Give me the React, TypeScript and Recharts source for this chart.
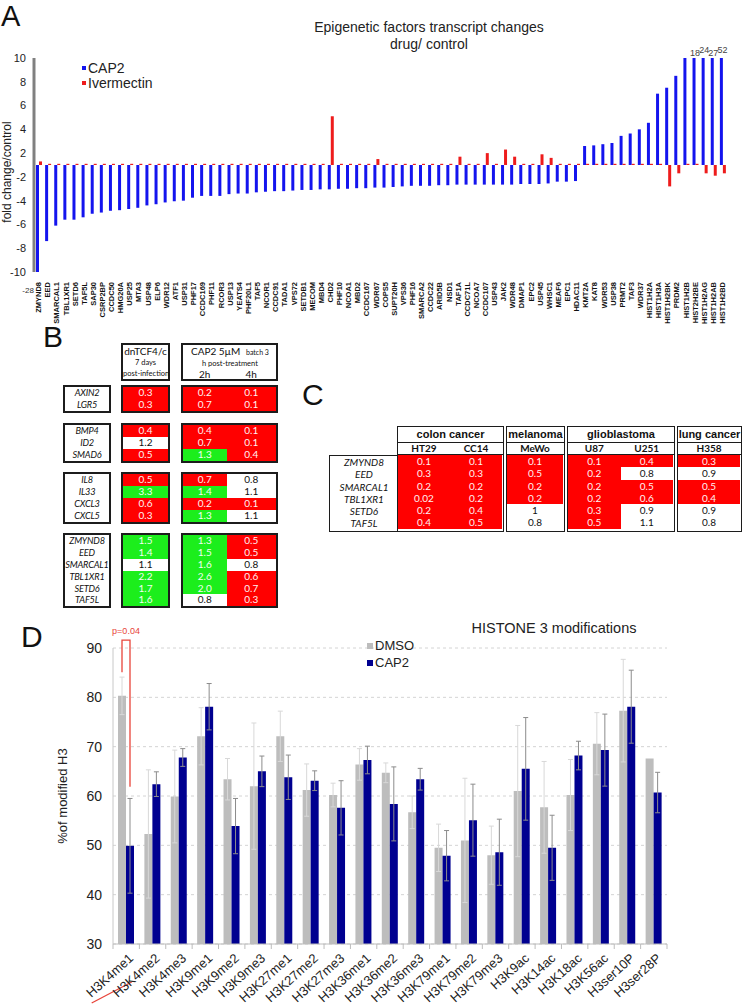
import React from 'react'
import {
  BarChart,
  Bar,
  XAxis,
  YAxis,
  CartesianGrid,
  Legend,
  ErrorBar,
  LabelList,
  ReferenceDot,
  Label,
} from 'recharts'

const AXIS_FONT = '"Liberation Sans", Arial, sans-serif'
const CAL_FONT = 'Lato, "Open Sans", sans-serif'
const RED = '#ff0000'
const GREEN = '#1cee1c'
const CAP2_BLUE = '#1414ee'
const IVER_RED = '#ee1c1c'
const NAVY = '#000090'
const DMSO_GRAY = '#bdbdbd'

// ---------- Panel A: fold change drug/control ----------
const geneNames = [
  'ZMYND8', 'EED', 'SMARCAL1', 'TBL1XR1', 'SETD6', 'TAF5L', 'SAP30', 'CSRP2BP', 'CCDC50', 'HMG20A',
  'USP25', 'MTA3', 'USP48', 'ELP6', 'WDR12', 'ATF1', 'USP31', 'PHF17', 'CCDC169', 'PHF11',
  'RCOR3', 'USP13', 'YEATS4', 'PHF20L1', 'TAF5', 'NCOR1', 'CCDC91', 'TADA1', 'VPS72', 'SETDB1',
  'MECOM', 'MBD4', 'CHD2', 'PHF10', 'NCOA1', 'MBD2', 'CCDC167', 'WDR67', 'COPS5', 'SUPT20H',
  'VPS36', 'PHF16', 'SMARCA2', 'CCDC22', 'ARID5B', 'NSD1', 'TAF1A', 'CCDC71L', 'NCOA7', 'CCDC107',
  'USP43', 'JAK2', 'WDR48', 'DMAP1', 'EPC2', 'USP45', 'WHSC1', 'MEAF6', 'EPC1', 'HDAC11',
  'KMT2A', 'KAT8', 'WDR53', 'USP38', 'PRMT2', 'TAF3', 'WDR37', 'HIST1H2A', 'HIST1H3A', 'HIST1H2BK',
  'PRDM2', 'HIST1H2B', 'HIST2H2BE', 'HIST1H2AG', 'HIST1H2AB', 'HIST1H2BD',
]

const cap2Fold = [
  -28, -7.4, -6.1, -5.6, -5.6, -5.4, -5.1, -5.0, -4.85, -4.8,
  -4.7, -4.6, -4.4, -4.3, -4.15, -4.05, -4.0, -3.75, -3.6, -3.6,
  -3.6, -3.45, -3.4, -3.4, -3.3, -3.25, -3.2, -3.2, -3.15, -3.1,
  -3.1, -3.05, -3.05, -3.0, -3.0, -2.95, -2.95, -2.9, -2.9, -2.85,
  -2.8, -2.75, -2.75, -2.75, -2.7, -2.7, -2.65, -2.65, -2.65, -2.65,
  -2.65, -2.65, -2.65, -2.6, -2.6, -2.6, -2.55, -2.4, -2.4, -2.35,
  2.6, 2.65, 2.75, 2.85, 3.45, 3.65, 4.0, 4.55, 7.0, 7.5,
  8.5, 10, 18, 24, 27, 52,
]

const ivermectinFold = [
  1.3, 1.1, 1.1, 1.1, 1.1, 1.1, 1.1, 1.1, 1.1, 1.1,
  1.1, 1.1, 1.1, 1.1, 1.1, 1.1, 1.1, 1.1, 1.1, 1.1,
  1.1, 1.1, 1.1, 1.1, 1.1, 1.1, 1.1, 1.1, 1.1, 1.1,
  1.1, 1.1, 5.1, 1.1, 1.1, 1.1, 1.1, 1.5, 1.1, 1.1,
  1.1, 1.1, 1.1, 1.1, 1.1, 1.1, 1.7, 1.1, 1.1, 2.0,
  1.1, 2.3, 1.7, 1.1, 1.1, 1.9, 1.6, 1.1, 1.1, 1.1,
  1.1, 1.1, 1.1, 1.1, 1.1, 1.1, 1.1, 1.1, 1.1, -2.8,
  -1.7, 1.1, 1.1, -1.7, -1.9, -1.7,
]

const foldTicks = [10, 8, 6, 4, 2, -2, -4, -6, -8, -10]

// the axis skips the -1..1 gap: fold 1 / -1 sits on the baseline
const foldToAxis = (v: number) => (v >= 1 ? v - 1 : v <= -1 ? v + 1 : 0)
const axisToFold = (t: number) => (t > 0 ? t + 1 : t - 1)

const panelAData = geneNames.map((gene, i) => ({
  gene,
  cap2: foldToAxis(cap2Fold[i]),
  ivermectin: foldToAxis(ivermectinFold[i]),
  cap2Raw: cap2Fold[i],
}))

// ---------- Panel B ----------
const bGroupSizes = [2, 3, 4, 6]
const bGenes = [
  'AXIN2', 'LGR5', 'BMP4', 'ID2', 'SMAD6', 'IL8', 'IL33', 'CXCL3', 'CXCL5',
  'ZMYND8', 'EED', 'SMARCAL1', 'TBL1XR1', 'SETD6', 'TAF5L',
]
const bDnTCF4 = [0.3, 0.3, 0.4, 1.2, 0.5, 0.5, 3.3, 0.6, 0.3, 1.5, 1.4, 1.1, 2.2, 1.7, 1.6]
const bCap2h2 = [0.2, 0.7, 0.4, 0.7, 1.3, 0.7, 1.4, 0.2, 1.3, 1.3, 1.5, 1.6, 2.6, 2.0, 0.8]
const bCap2h4 = [0.1, 0.1, 0.1, 0.1, 0.4, 0.8, 1.1, 0.1, 1.1, 0.5, 0.5, 0.8, 0.6, 0.7, 0.3]

// ---------- Panel C ----------
const cGroups = ['colon cancer', 'melanoma', 'glioblastoma', 'lung cancer']
const cGroupSizes = [2, 1, 2, 1]
const cLines = ['HT29', 'CC14', 'MeWo', 'U87', 'U251', 'H358']
const cGenes = ['ZMYND8', 'EED', 'SMARCAL1', 'TBL1XR1', 'SETD6', 'TAF5L']
const cHT29 = [0.1, 0.3, 0.2, 0.02, 0.2, 0.4]
const cCC14 = [0.1, 0.3, 0.2, 0.2, 0.4, 0.5]
const cMeWo = [0.1, 0.5, 0.2, 0.2, 1, 0.8]
const cU87 = [0.1, 0.2, 0.2, 0.2, 0.3, 0.5]
const cU251 = [0.4, 0.8, 0.5, 0.6, 0.9, 1.1]
const cH358 = [0.3, 0.9, 0.5, 0.4, 0.9, 0.8]
const cValues = [cHT29, cCC14, cMeWo, cU87, cU251, cH358]

// ---------- Panel D: histone 3 modifications ----------
const histoneMarks = [
  'H3K4me1', 'H3K4me2', 'H3K4me3', 'H3K9me1', 'H3K9me2', 'H3K9me3', 'H3K27me1',
  'H3K27me2', 'H3K27me3', 'H3K36me1', 'H3K36me2', 'H3K36me3', 'H3K79me1', 'H3K79me2',
  'H3K79me3', 'H3K9ac', 'H3K14ac', 'H3K18ac', 'H3K56ac', 'H3ser10P', 'H3ser28P',
]
const dmsoPct = [80.3, 52.3, 59.9, 72.1, 63.4, 62.0, 72.1, 61.2, 60.2, 66.4, 64.7, 56.7, 49.5, 51.0, 48.0, 61.0, 57.7, 60.2, 70.6, 77.3, 67.6]
const dmsoErr = [3.8, 13.0, 9.4, 5.8, 4.2, 12.8, 5.1, 5.3, 2.4, 3.2, 2.0, 3.3, 4.8, 12.6, 5.9, 13.3, 9.3, 7.2, 6.3, 10.4, 0]
const cap2Pct = [49.9, 62.4, 67.8, 78.1, 53.9, 65.0, 63.8, 63.1, 57.6, 67.3, 58.4, 63.4, 47.9, 55.1, 48.6, 65.5, 49.5, 68.2, 69.3, 78.1, 60.7]
const cap2Err = [9.6, 2.5, 1.8, 4.7, 5.6, 3.1, 4.5, 2.0, 5.5, 2.8, 7.5, 2.2, 5.1, 7.3, 6.7, 10.4, 6.6, 2.9, 7.3, 7.4, 4.1]
const pctTicks = [30, 40, 50, 60, 70, 80, 90]
const pBracket = { top: 91.6, leftEnd: 85.1, rightEnd: 61.9, text: 'p=0.04' }

const panelDData = histoneMarks.map((mark, i) => ({
  mark,
  dmso: dmsoPct[i],
  dmsoErr: dmsoErr[i],
  cap2: cap2Pct[i],
  cap2Err: cap2Err[i],
}))

// ---------- shared bits ----------
function SquareLegend({ payload, order, rowH, fontSize, marker }: any) {
  const items = [...(payload || [])].sort((a: any, b: any) => order.indexOf(a.value) - order.indexOf(b.value))
  return (
    <div style={{ fontFamily: AXIS_FONT, fontSize, color: '#222' }}>
      {items.map((p: any) => (
        <div key={p.value} style={{ display: 'flex', alignItems: 'center', height: rowH, whiteSpace: 'nowrap' }}>
          <span style={{ display: 'inline-block', width: marker, height: marker, background: p.color, marginRight: 2 }} />
          {p.value}
        </div>
      ))}
    </div>
  )
}

function GeneTick({ x, y, payload }: any) {
  return (
    <text
      transform={`translate(${x},${y + 2}) rotate(-90)`}
      textAnchor="end"
      dy="0.35em"
      fontSize={7.5}
      fontWeight="bold"
      fill="#111"
      fontFamily={AXIS_FONT}
    >
      {payload.value}
    </text>
  )
}

function OverflowLabel({ viewBox, value, raised }: any) {
  const { x, y } = viewBox
  if (value < 0) {
    return (
      <text x={x - 10.5} y={y + 21} fontSize={8} fill="#333" textAnchor="middle" fontFamily={AXIS_FONT}>
        {value}
      </text>
    )
  }
  return (
    <text x={x} y={y - (raised ? 5 : 2)} fontSize={9} fill="#444" textAnchor="middle" fontFamily={AXIS_FONT}>
      {value}
    </text>
  )
}

function PanelA() {
  const overTop = panelAData.filter((d) => d.cap2Raw > 10)
  const overBottom = panelAData.filter((d) => d.cap2Raw < -10)
  return (
    <BarChart width={742} height={340} data={panelAData} margin={{ top: 58, right: 15, bottom: 0, left: 0 }} barGap={0}>
      <XAxis dataKey="gene" interval={0} axisLine={false} tickLine={false} height={68} tick={<GeneTick />} />
      <YAxis
        width={34}
        domain={[-9, 9]}
        ticks={foldTicks.map(foldToAxis)}
        tickFormatter={(t: number) => String(axisToFold(t))}
        allowDataOverflow
        tickLine={false}
        axisLine={{ stroke: '#808080', strokeWidth: 3 }}
        tick={{ fontSize: 11, fill: '#222', fontFamily: AXIS_FONT }}
      >
        <Label
          content={(p: any) => {
            const vb = p.viewBox
            const cy = vb.y + vb.height / 2 + 7
            return (
              <text x={11} y={cy} transform={`rotate(-90, 11, ${cy})`} textAnchor="middle" fontSize={12} fill="#222" fontFamily={AXIS_FONT}>
                fold change/control
              </text>
            )
          }}
        />
      </YAxis>
      <Legend
        layout="vertical"
        align="center"
        verticalAlign="middle"
        wrapperStyle={{ left: 82, top: 60, width: 120 }}
        content={(p: any) => <SquareLegend payload={p.payload} order={['CAP2', 'Ivermectin']} rowH={15} fontSize={14} marker={4} />}
      />
      <Bar dataKey="cap2" name="CAP2" fill={CAP2_BLUE} barSize={3} isAnimationActive={false} />
      <Bar dataKey="ivermectin" name="Ivermectin" fill={IVER_RED} barSize={3} isAnimationActive={false} />
      {overTop.map((d, k) => (
        <ReferenceDot key={d.gene} x={d.gene} y={9} r={0} fill="none" stroke="none" ifOverflow="visible"
          label={<OverflowLabel value={d.cap2Raw} raised={k % 2 === 1} />} />
      ))}
      {overBottom.map((d) => (
        <ReferenceDot key={d.gene} x={d.gene} y={-9} r={0} fill="none" stroke="none" ifOverflow="visible"
          label={<OverflowLabel value={d.cap2Raw} />} />
      ))}
    </BarChart>
  )
}

function MarkTick({ x, y, payload, index }: any) {
  const half = payload && payload.offset ? payload.offset : 13.2
  const last = index === histoneMarks.length - 1
  return (
    <g>
      <line x1={x - half} x2={x - half} y1={y - 8} y2={y - 3} stroke="#bdbdbd" />
      {last && <line x1={x + half} x2={x + half} y1={y - 8} y2={y - 3} stroke="#bdbdbd" />}
      <text
        transform={`translate(${x + 5},${y + 4}) rotate(-42)`}
        textAnchor="end"
        dy="0.35em"
        fontSize={13}
        fill="#222"
        fontFamily={AXIS_FONT}
      >
        {payload.value}
      </text>
      {index === 0 && <line x1={x - 34.5} y1={y + 51} x2={x + 5.5} y2={y + 30} stroke="#e8443a" strokeWidth={1.3} />}
    </g>
  )
}

function PBracket(props: any) {
  const { index, value } = props
  if (index !== 0) return null
  const vb = props.viewBox || props
  const { x, y, width, height } = vb
  const per = height / (Number(value) - 30)
  const toY = (v: number) => y + (Number(value) - v) * per
  const lx = x - width / 2
  const rx = x + width / 2
  return (
    <g>
      <polyline
        points={`${lx},${toY(pBracket.leftEnd)} ${lx},${toY(pBracket.top)} ${rx},${toY(pBracket.top)} ${rx},${toY(pBracket.rightEnd)}`}
        fill="none"
        stroke="#e8443a"
        strokeWidth={1.3}
      />
      <text x={(lx + rx) / 2} y={toY(pBracket.top) - 6} textAnchor="middle" fontSize={9} fill="#e8443a" fontFamily={AXIS_FONT}>
        {pBracket.text}
      </text>
    </g>
  )
}

function PanelD() {
  return (
    <BarChart width={742} height={388} data={panelDData} margin={{ top: 28, right: 75, bottom: 0, left: 0 }} barGap={0}>
      <CartesianGrid vertical={false} strokeDasharray="3 3" stroke="#d4d4d4" />
      <XAxis
        dataKey="mark"
        interval={0}
        height={64}
        tickLine={false}
        tickSize={6}
        tickMargin={2}
        axisLine={{ stroke: '#bdbdbd' }}
        tick={<MarkTick />}
      />
      <YAxis
        width={113}
        domain={[30, 90]}
        ticks={pctTicks}
        tickLine={false}
        tickMargin={5}
        axisLine={{ stroke: '#c8c8c8' }}
        tick={{ fontSize: 14, fill: '#222', fontFamily: AXIS_FONT }}
      >
        <Label
          content={(p: any) => {
            const vb = p.viewBox
            const cy = vb.y + vb.height / 2 + 0
            return (
              <text x={62} y={cy} transform={`rotate(-90, 62, ${cy})`} textAnchor="middle" dy="0.35em" fontSize={13} fill="#222" fontFamily={AXIS_FONT}>
                %of modified H3
              </text>
            )
          }}
        />
      </YAxis>
      <Legend
        layout="vertical"
        align="center"
        verticalAlign="middle"
        wrapperStyle={{ left: 367, top: 17, width: 90 }}
        content={(p: any) => <SquareLegend payload={p.payload} order={['DMSO', 'CAP2']} rowH={17} fontSize={13} marker={6} />}
      />
      <Bar dataKey="dmso" name="DMSO" fill={DMSO_GRAY} barSize={8} isAnimationActive={false}>
        <ErrorBar dataKey="dmsoErr" width={2.5} stroke="#d8d8d8" strokeWidth={1} />
      </Bar>
      <Bar dataKey="cap2" name="CAP2" fill={NAVY} barSize={8} isAnimationActive={false}>
        <ErrorBar dataKey="cap2Err" width={2.5} stroke="#8c8c8c" strokeWidth={1} />
        <LabelList dataKey="cap2" content={<PBracket />} />
      </Bar>
    </BarChart>
  )
}

// ---------- tables ----------
function heatStyle(v: number) {
  if (v <= 0.7) return { background: RED, color: '#fff2f2' }
  if (v >= 1.3) return { background: GREEN, color: '#f2fff2' }
  return { background: '#ffffff', color: '#111' }
}

const abs = (left: number, top: number, width: number, height: number): React.CSSProperties => ({
  position: 'absolute',
  left,
  top,
  width,
  height,
  boxSizing: 'border-box',
})

const B_GROUP_TOPS = [385, 423, 472, 533]
const B_ROW = 11.9
const B_BORDER = '2px solid #1c1c1c'

function PanelB() {
  const starts = bGroupSizes.map((_, g) => bGroupSizes.slice(0, g).reduce((a, b) => a + b, 0))
  const cell = (v: number, w: number, key: string) => (
    <div key={key} style={{ ...heatStyle(v), width: w, height: B_ROW, lineHeight: `${B_ROW}px`, textAlign: 'center', fontSize: 10 }}>
      {v.toFixed(1)}
    </div>
  )
  return (
    <div style={{ fontFamily: CAL_FONT }}>
      <div style={{ ...abs(121, 343, 49, 38), border: B_BORDER, textAlign: 'center', color: '#111' }}>
        <div style={{ fontSize: 10, lineHeight: '12px' }}>dnTCF4/c</div>
        <div style={{ fontSize: 7.5, lineHeight: '11px' }}>7 days</div>
        <div style={{ fontSize: 7.5, lineHeight: '11px', whiteSpace: 'nowrap' }}>post-infection</div>
      </div>
      <div style={{ ...abs(181, 343, 97, 38), border: B_BORDER, color: '#111', whiteSpace: 'nowrap' }}>
        <div style={{ fontSize: 10, lineHeight: '12px', paddingLeft: 8 }}>
          CAP2 5µM <span style={{ fontSize: 7, marginLeft: 3 }}>batch 3</span>
        </div>
        <div style={{ fontSize: 7.5, lineHeight: '11px', paddingLeft: 19 }}>h post-treatment</div>
        <div style={{ fontSize: 10, lineHeight: '11px', display: 'flex' }}>
          <span style={{ width: 43.5, textAlign: 'center' }}>2h</span>
          <span style={{ width: 49.5, textAlign: 'center' }}>4h</span>
        </div>
      </div>
      {bGroupSizes.map((n, g) => {
        const idx = Array.from({ length: n }, (_, k) => starts[g] + k)
        const top = B_GROUP_TOPS[g]
        const h = n * B_ROW + 4
        return (
          <React.Fragment key={g}>
            <div style={{ ...abs(63, top, 48, h), border: B_BORDER, background: '#fff' }}>
              {idx.map((i) => (
                <div key={i} style={{ height: B_ROW, lineHeight: `${B_ROW}px`, textAlign: 'center', fontStyle: 'italic', fontSize: 9.2, letterSpacing: -0.2, color: '#111', whiteSpace: 'nowrap' }}>
                  {bGenes[i]}
                </div>
              ))}
            </div>
            <div style={{ ...abs(121, top, 49, h), border: B_BORDER }}>
              {idx.map((i) => cell(bDnTCF4[i], 45, `d${i}`))}
            </div>
            <div style={{ ...abs(181, top, 97, h), border: B_BORDER }}>
              {idx.map((i) => (
                <div key={i} style={{ display: 'flex' }}>
                  {cell(bCap2h2[i], 43.5, `a${i}`)}
                  {cell(bCap2h4[i], 49.5, `b${i}`)}
                </div>
              ))}
            </div>
          </React.Fragment>
        )
      })}
    </div>
  )
}

const C_GROUP_LEFT = [397, 506, 567, 677]
const C_GROUP_W = [107, 59, 108, 65]
const C_TOP = 426
const C_ROW = 12.3
const C_BORDER = '1.5px solid #1c1c1c'

function PanelC() {
  const starts = cGroupSizes.map((_, g) => cGroupSizes.slice(0, g).reduce((a, b) => a + b, 0))
  return (
    <div style={{ fontFamily: CAL_FONT }}>
      <div style={{ ...abs(329, 455, 69, 6 * C_ROW + 3), border: C_BORDER, borderRight: 'none', background: '#fff' }}>
        {cGenes.map((gname) => (
          <div key={gname} style={{ height: C_ROW, lineHeight: `${C_ROW}px`, textAlign: 'center', fontStyle: 'italic', fontSize: 10, color: '#111' }}>
            {gname}
          </div>
        ))}
      </div>
      {cGroups.map((name, g) => {
        const n = cGroupSizes[g]
        const w = C_GROUP_W[g]
        const colW = (w - 3) / n
        const lines = Array.from({ length: n }, (_, k) => starts[g] + k)
        return (
          <div key={name} style={{ ...abs(C_GROUP_LEFT[g], C_TOP, w, 16 + 13 + 6 * C_ROW + 3), border: C_BORDER, background: '#fff' }}>
            <div style={{ height: 14.5, lineHeight: '14.5px', borderBottom: C_BORDER, textAlign: 'center', fontFamily: AXIS_FONT, fontWeight: 'bold', fontSize: 11, color: '#111', whiteSpace: 'nowrap' }}>
              {name}
            </div>
            <div style={{ display: 'flex', height: 11.5, lineHeight: '11.5px', borderBottom: C_BORDER }}>
              {lines.map((l) => (
                <div key={l} style={{ width: colW, textAlign: 'center', fontWeight: 'bold', fontSize: 10, color: '#111' }}>
                  {cLines[l]}
                </div>
              ))}
            </div>
            {cGenes.map((gname, r) => (
              <div key={gname} style={{ display: 'flex' }}>
                {lines.map((l) => (
                  <div key={l} style={{ ...heatStyle(cValues[l][r]), width: colW, height: C_ROW, lineHeight: `${C_ROW}px`, textAlign: 'center', fontSize: 10 }}>
                    {String(cValues[l][r])}
                  </div>
                ))}
              </div>
            ))}
          </div>
        )
      })}
    </div>
  )
}

export default function App() {
  return (
    <div style={{ position: 'absolute', left: 0, top: 0, width: 742, height: 1008, background: '#fff', overflow: 'hidden', fontFamily: AXIS_FONT }}>
      <div style={{ position: 'absolute', left: 0, top: 0 }}>
        <PanelA />
      </div>
      <PanelB />
      <PanelC />
      <div style={{ position: 'absolute', left: 0, top: 620 }}>
        <PanelD />
      </div>
      <svg width={742} height={1008} style={{ position: 'absolute', left: 0, top: 0, pointerEvents: 'none' }} fontFamily={AXIS_FONT}>
        <text x={1} y={26} fontSize={29} fill="#111">A</text>
        <text x={429} y={32} fontSize={14} textAnchor="middle" fill="#222">Epigenetic factors transcript changes</text>
        <text x={429} y={49} fontSize={14} textAnchor="middle" fill="#222">drug/ control</text>
        <text x={43} y={347} fontSize={30} fill="#111">B</text>
        <text x={302} y={405} fontSize={30} fill="#111">C</text>
        <text x={21} y={647} fontSize={30} fill="#111">D</text>
        <text x={554} y={633} fontSize={14.5} textAnchor="middle" fill="#222">HISTONE 3 modifications</text>
      </svg>
    </div>
  )
}
